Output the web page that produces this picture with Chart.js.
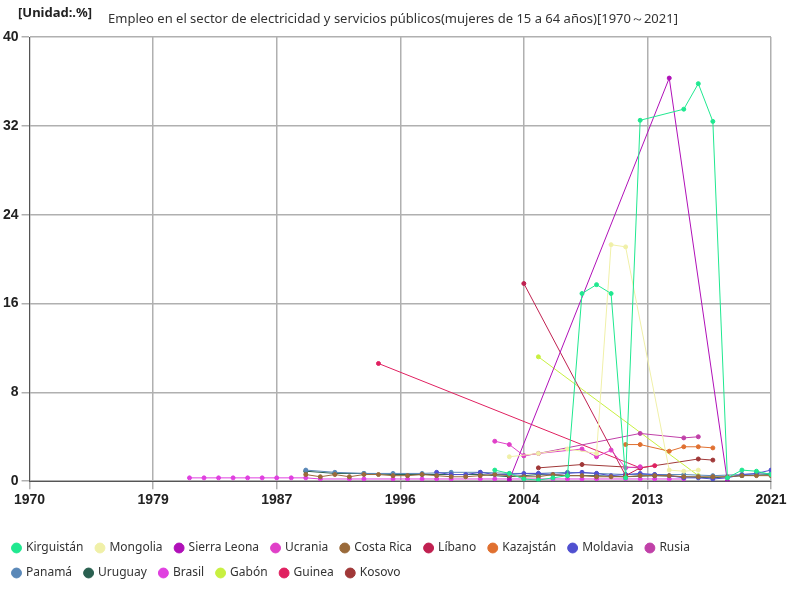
<!DOCTYPE html>
<html><head><meta charset="utf-8">
<script src="https://cdn.jsdelivr.net/npm/chart.js@4/dist/chart.umd.min.js"></script>
<style>body{margin:0;background:#fff;font-family:"Noto Sans",sans-serif}#w{position:relative;width:800px;height:600px}
#u{position:absolute;left:18px;top:3px;font-weight:bold;font-size:13px;color:#222}
#t{position:absolute;left:108px;top:9px;font-size:13px;color:#333}</style>
</head><body><div id="w"><div id="u">[Unidad:.%]</div><div id="t">Empleo en el sector de electricidad y servicios públicos(mujeres de 15 a 64 años)[1970～2021]</div><canvas id="c" width="800" height="600"></canvas></div>
<script>
const names=["Kirguistán","Mongolia","Sierra Leona","Ucrania","Costa Rica","Líbano","Kazajstán","Moldavia","Rusia","Panamá","Uruguay","Brasil","Gabón","Guinea","Kosovo"];
const colors=["#20e890","#f0f0a8","#b010b8","#e040c8","#9a6a3a","#c02050","#e07030","#5050d0","#c040a8","#5a88b8","#2a6050","#e040e0","#c8f040","#e02060","#a03838"];
const years=[
[2002,2003,2004,2005,2006,2007,2008,2009,2010,2011,2012,2015,2016,2017,2018,2019,2020,2021],
[2003,2005,2007,2009,2010,2011,2014,2015,2016],
[2003,2014,2018],
[2002,2003,2004,2005,2008,2009,2010,2011,2012],
[1989,1990,1991,1992,1993,1994,1995,1996,1997,1998,1999,2000,2001,2002,2003,2004,2005,2006,2007,2008,2009,2010,2011,2012,2013,2014,2015,2016,2017,2018,2019,2020,2021],
[2004,2011,2012],
[2011,2012,2014,2015,2016,2017],
[1998,1999,2000,2001,2002,2003,2004,2005,2006,2007,2008,2009,2010,2011,2012,2013,2014,2015,2016,2017,2018,2019,2020,2021],
[2004,2005,2012,2015,2016],
[1989,1991,1993,1995,1997,1999,2001,2003,2005,2007,2009,2011,2013,2015,2017,2019,2021],
[1989,1991,1993,1995,1997,1999,2001,2003,2005,2007,2009,2011,2013,2015,2017,2019,2021],
[1981,1982,1983,1984,1985,1986,1987,1988,1989,1990,1992,1993,1995,1996,1997,1998,1999,2001,2002,2003,2004,2005,2006,2007,2008,2009,2011,2012,2013,2014,2015],
[2005,2016],
[1994,2012,2013],
[2005,2008,2012,2016,2017]];
const values=[
[1.0,0.7,0.2,0.1,0.3,0.5,16.9,17.7,16.9,0.3,32.5,33.5,35.8,32.4,0.3,1.0,0.9,0.6],
[2.2,2.5,2.9,2.5,21.3,21.1,1.0,0.9,1.0],
[0.1,36.3,0.0],
[3.6,3.3,2.3,2.5,2.9,2.2,2.8,1.2,1.3],
[0.6,0.4,0.6,0.4,0.6,0.6,0.5,0.5,0.6,0.5,0.4,0.4,0.5,0.6,0.5,0.4,0.4,0.6,0.5,0.5,0.4,0.4,0.4,0.5,0.5,0.5,0.4,0.4,0.4,0.4,0.5,0.5,0.5],
[17.8,0.5,1.2],
[3.3,3.3,2.7,3.1,3.1,3.0],
[0.8,0.6,0.6,0.8,0.6,0.6,0.7,0.7,0.6,0.7,0.8,0.7,0.5,0.6,0.7,0.6,0.5,0.3,0.3,0.2,0.3,0.6,0.7,1.0],
[2.3,2.5,4.3,3.9,4.0],
[1.0,0.8,0.7,0.7,0.7,0.8,0.8,0.7,0.7,0.8,0.7,0.6,0.6,0.6,0.5,0.6,0.7],
[0.9,0.7,0.7,0.6,0.6,0.6,0.6,0.4,0.6,0.5,0.5,0.4,0.5,0.4,0.3,0.5,0.6],
[0.3,0.3,0.3,0.3,0.3,0.3,0.3,0.3,0.3,0.2,0.2,0.2,0.2,0.2,0.2,0.2,0.2,0.2,0.2,0.2,0.2,0.2,0.2,0.2,0.2,0.2,0.2,0.2,0.2,0.2,0.2],
[11.2,0.5],
[10.6,1.2,1.4],
[1.2,1.5,1.2,2.0,1.9]];
const datasets=names.map((n,i)=>({label:n,data:years[i].map((y,j)=>({x:y,y:values[i][j]})),borderColor:colors[i],backgroundColor:colors[i],borderWidth:1,pointRadius:2,pointHoverRadius:2,tension:0}));
const legendPad={id:'lp',beforeInit(chart){const f=chart.legend.fit;chart.legend.fit=function(){f.call(this);this.height+=11;};}};
new Chart(document.getElementById('c'),{type:'line',data:{datasets},plugins:[legendPad],
options:{responsive:false,animation:false,layout:{padding:{top:37,right:29,left:0,bottom:0}},
plugins:{legend:{position:'bottom',align:'start',labels:{usePointStyle:true,pointStyle:'circle',boxWidth:7,boxHeight:7,font:{size:12,family:'Noto Sans'},color:'#333',padding:13}},tooltip:{enabled:false}},
scales:{x:{type:'linear',min:1970,max:2021,afterFit(s){s.height+=17;},ticks:{stepSize:8.5,callback:v=>Math.round(v),color:'#222',font:{size:14,weight:'bold'},maxRotation:0},grid:{color:'#b0b0b0',lineWidth:1.5},border:{color:'#555'}},
y:{min:0,max:40,ticks:{stepSize:8,color:'#222',font:{size:14,weight:'bold'}},grid:{color:'#b0b0b0',lineWidth:1.5},border:{color:'#555'}}}}});
</script></body></html>
